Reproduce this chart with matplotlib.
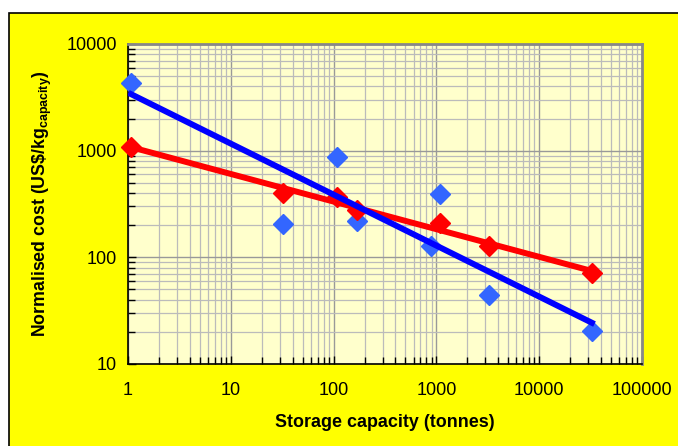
import matplotlib.pyplot as plt
import matplotlib.patches as patches
import numpy as np

plt.rcParams['font.family'] = ['Liberation Sans', 'DejaVu Sans']
plt.rcParams['mathtext.fontset'] = 'custom'
plt.rcParams['mathtext.rm'] = 'Liberation Sans'
plt.rcParams['mathtext.bf'] = 'Liberation Sans:bold'

# blue series
blue_x = [1.07, 32, 108, 170, 890, 1085, 3250, 32500]
blue_y = [4300, 205, 870, 220, 127, 395, 44, 20.5]

# red series
red_x = [1.07, 32, 108, 170, 1085, 3250, 32500]
red_y = [1080, 400, 365, 275, 212, 127, 71]

xticks = [1, 10, 100, 1000, 10000, 100000]
yticks = [10, 100, 1000, 10000]

fig = plt.figure(figsize=(6.78, 4.46), dpi=100, facecolor='white')
bg = patches.Rectangle((9 / 678, -0.05), 1.2, (446 - 13) / 446 + 0.05,
                       transform=fig.transFigure, facecolor='#FFFF00',
                       edgecolor='black', linewidth=1.2, zorder=-10)
fig.patches.append(bg)

ax = fig.add_axes([128 / 678, (446 - 364) / 446, (642 - 128) / 678, (364 - 44) / 446])
ax.set_facecolor('#FFFFCC')
ax.set_xscale('log')
ax.set_yscale('log')
ax.set_xlim(1, 100000)
ax.set_ylim(10, 10000)

ax.grid(True, which='major', color='#999999', linewidth=1.0)
ax.grid(True, which='minor', color='#BBBBBB', linewidth=0.9)
ax.set_axisbelow(True)

ax.plot(blue_x, blue_y, 'D', color='#3366FF', markersize=10, linestyle='none',
        zorder=3, clip_on=False)
ax.plot(red_x, red_y, 'D', color='#FF0000', markersize=10, linestyle='none',
        zorder=3, clip_on=False)

# power-law trendlines
def trend(xs, ys):
    k, b = np.polyfit(np.log10(xs), np.log10(ys), 1)
    xx = np.array([min(xs), max(xs)])
    return xx, 10 ** (b + k * np.log10(xx))

tx, ty = trend(red_x, red_y)
ax.plot(tx, ty, color='#FF0000', linewidth=4.3, zorder=4)
tx, ty = trend(blue_x, blue_y)
ax.plot(tx, ty, color='#0000FF', linewidth=4.3, zorder=4)

ax.set_xticks(xticks)
ax.set_xticklabels([str(v) for v in xticks])
ax.set_yticks(yticks)
ax.set_yticklabels([str(v) for v in yticks])
ax.tick_params(which='both', direction='in', labelsize=13, pad=8)
ax.tick_params(which='major', length=6, width=1)
ax.tick_params(which='minor', length=5, width=1)
ax.tick_params(axis='x', pad=13)

for s in ['left', 'bottom']:
    ax.spines[s].set_color('black')
    ax.spines[s].set_linewidth(1.2)
for s in ['top', 'right']:
    ax.spines[s].set_color('#888888')
    ax.spines[s].set_linewidth(2)

ax.set_xlabel('Storage capacity (tonnes)', fontsize=12.9, fontweight='bold', labelpad=11)
ax.set_ylabel(r'Normalised cost (US\$/kg$_{\mathbf{capacity}}$)', fontsize=12.8,
              fontweight='bold', labelpad=9)

fig.savefig('out.png', dpi=100, facecolor=fig.get_facecolor())
